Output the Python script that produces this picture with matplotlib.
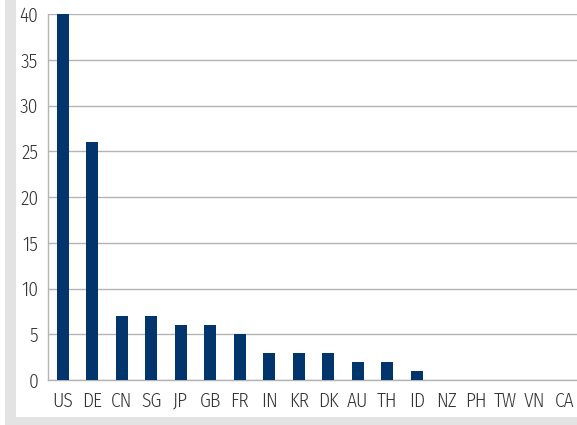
import matplotlib
matplotlib.use('Agg')
import matplotlib.pyplot as plt
from matplotlib.patches import Rectangle

countries = ['US', 'DE', 'CN', 'SG', 'JP', 'GB', 'FR', 'IN', 'KR', 'DK',
             'AU', 'TH', 'ID', 'NZ', 'PH', 'TW', 'VN', 'CA']
values = [40, 26, 7, 7, 6, 6, 5, 3, 3, 3, 2, 2, 1, 0, 0, 0, 0, 0]

plt.rcParams['font.family'] = ['Fira Sans Condensed', 'DejaVu Sans']
plt.rcParams['font.weight'] = 300

W, H = 577, 425
fig = plt.figure(figsize=(W / 100, H / 100), dpi=100)
fig.patch.set_facecolor('white')

# grey shadow frame behind the white panel
fig.patches.append(Rectangle((5 / W, 0), 1, 1, transform=fig.transFigure,
                             facecolor='#e3e3e3', edgecolor='none', zorder=-2))
fig.patches.append(Rectangle((16 / W, 8 / H), 1, 1, transform=fig.transFigure,
                             facecolor='white', edgecolor='none', zorder=-1))

ax = fig.add_axes([48 / W, 1 - 380 / H, 531 / W, 366 / H])
ax.set_zorder(1)
ax.set_facecolor('none')
ax.bar(range(len(countries)), values, width=0.4, color='#02356b', zorder=3)

ax.set_xlim(-0.5, len(countries) - 0.5)
ax.set_ylim(0, 40)
ax.set_yticks(range(0, 41, 5))
ax.set_xticks(range(len(countries)))
ax.set_xticklabels(countries)
ax.yaxis.grid(True, color='#b4b4b4', linewidth=1.0, zorder=0)
ax.tick_params(length=0, labelsize=14, colors='#333333', pad=7)
ax.tick_params(axis='x', pad=8)

for s in ['top', 'right']:
    ax.spines[s].set_visible(False)
for s in ['left', 'bottom']:
    ax.spines[s].set_color('#b4b4b4')
    ax.spines[s].set_linewidth(1.0)

fig.savefig('out.png', dpi=100)
